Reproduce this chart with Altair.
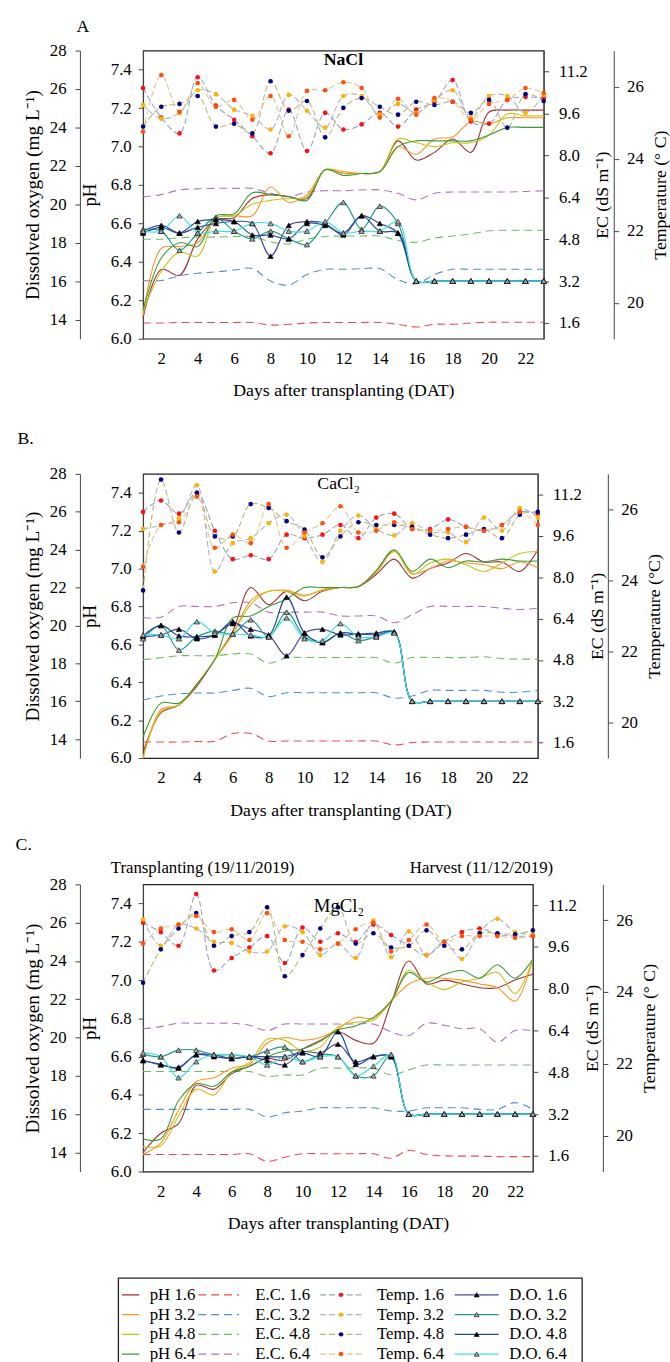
import altair as alt
import pandas as pd

DAYS = list(range(1, 24))
LEVELS = ["1.6", "3.2", "4.8", "6.4"]

# ---------------- Panel A : NaCl ----------------
A_PH_16 = [6.11, 6.36, 6.33, 6.52, 6.62, 6.63, 6.73, 6.75, 6.74, 6.73, 6.88, 6.86, 6.86, 6.87, 7.03, 6.93, 6.97, 7.04, 6.97, 7.18, 7.19, 7.19, 7.19]
A_PH_32 = [6.12, 6.47, 6.48, 6.50, 6.63, 6.64, 6.64, 6.79, 6.71, 6.75, 6.88, 6.87, 6.86, 6.87, 7.00, 6.96, 7.04, 7.05, 7.13, 7.12, 7.15, 7.15, 7.15]
A_PH_48 = [6.14, 6.35, 6.45, 6.43, 6.63, 6.64, 6.70, 6.72, 6.73, 6.74, 6.88, 6.86, 6.86, 6.87, 7.04, 7.02, 7.00, 7.02, 7.02, 7.06, 7.17, 7.16, 7.16]
A_PH_64 = [6.15, 6.42, 6.50, 6.48, 6.64, 6.65, 6.76, 6.75, 6.74, 6.72, 6.88, 6.85, 6.86, 6.87, 7.00, 7.03, 7.03, 7.03, 7.03, 7.06, 7.10, 7.10, 7.10]

A_EC_16 = [1.60, 1.60, 1.62, 1.62, 1.62, 1.62, 1.62, 1.52, 1.55, 1.60, 1.62, 1.62, 1.62, 1.62, 1.55, 1.45, 1.55, 1.55, 1.60, 1.63, 1.63, 1.63, 1.63]
A_EC_32 = [3.22, 3.22, 3.40, 3.50, 3.55, 3.62, 3.68, 3.20, 3.05, 3.45, 3.65, 3.65, 3.67, 3.68, 3.25, 3.10, 3.45, 3.65, 3.65, 3.65, 3.65, 3.65, 3.65]
A_EC_48 = [4.80, 4.80, 4.85, 4.88, 4.88, 4.90, 4.90, 4.70, 4.62, 4.80, 4.90, 4.92, 4.92, 4.92, 4.75, 4.68, 4.85, 4.92, 5.00, 5.12, 5.14, 5.14, 5.14]
A_EC_64 = [6.42, 6.50, 6.68, 6.72, 6.74, 6.74, 6.74, 6.55, 6.42, 6.60, 6.65, 6.65, 6.68, 6.68, 6.55, 6.30, 6.55, 6.60, 6.60, 6.60, 6.60, 6.62, 6.65]

A_T_16 = [25.96, 25.14, 24.70, 26.26, 25.47, 25.08, 24.62, 24.15, 25.36, 24.21, 25.27, 24.81, 24.95, 25.27, 24.89, 25.36, 25.58, 26.18, 25.03, 24.97, 25.63, 25.71, 25.68]
A_T_32 = [25.49, 25.11, 25.27, 25.90, 25.79, 25.36, 25.19, 24.81, 25.77, 25.33, 24.86, 25.74, 25.74, 25.22, 25.52, 25.27, 25.63, 25.90, 25.14, 25.74, 25.74, 25.27, 25.77]
A_T_48 = [24.89, 25.44, 25.52, 25.74, 24.89, 24.97, 24.70, 26.15, 25.33, 25.60, 24.59, 25.41, 25.68, 25.44, 25.22, 25.58, 25.49, 25.58, 25.27, 25.63, 24.86, 25.79, 25.60]
A_T_64 = [24.75, 26.32, 25.30, 26.10, 25.44, 25.63, 25.08, 25.74, 24.62, 25.88, 25.90, 26.12, 25.96, 25.14, 25.66, 25.22, 25.68, 25.58, 25.08, 25.52, 25.63, 25.96, 25.82]

A_DO_16 = [18.6, 18.9, 18.5, 18.8, 19.0, 19.1, 19.0, 17.3, 18.9, 19.1, 19.0, 18.4, 19.4, 19.0, 18.5, 16.0, 16.0, 16.0, 16.0, 16.0, 16.0, 16.0, 16.0]
A_DO_32 = [18.7, 18.6, 17.6, 18.5, 19.3, 18.6, 18.2, 18.6, 18.2, 17.9, 19.0, 20.1, 18.7, 19.9, 19.0, 16.0, 16.0, 16.0, 16.0, 16.0, 16.0, 16.0, 16.0]
A_DO_48 = [18.5, 18.8, 18.5, 19.1, 19.2, 19.1, 18.4, 18.4, 18.2, 19.0, 18.9, 18.5, 19.4, 18.6, 18.5, 16.0, 16.0, 16.0, 16.0, 16.0, 16.0, 16.0, 16.0]
A_DO_64 = [18.6, 18.6, 19.4, 18.5, 18.6, 18.6, 19.0, 19.0, 18.6, 18.6, 19.1, 18.5, 18.6, 18.6, 19.1, 16.0, 16.0, 16.0, 16.0, 16.0, 16.0, 16.0, 16.0]

# ---------------- Panel B : CaCl2 ----------------
B_PH_16 = [6.03, 6.24, 6.28, 6.38, 6.52, 6.67, 6.90, 6.81, 6.88, 6.83, 6.88, 6.90, 6.905, 6.97, 7.05, 6.95, 7.00, 7.03, 7.08, 7.035, 7.035, 6.985, 7.10]
B_PH_32 = [6.00, 6.255, 6.28, 6.39, 6.52, 6.655, 6.83, 6.88, 6.885, 6.86, 6.885, 6.90, 6.905, 6.98, 7.09, 6.975, 7.00, 7.04, 7.03, 7.02, 7.00, 7.035, 7.005]
B_PH_48 = [6.00, 6.245, 6.28, 6.39, 6.52, 6.655, 6.81, 6.88, 6.88, 6.855, 6.89, 6.90, 6.905, 6.99, 7.095, 6.97, 7.03, 7.05, 7.02, 6.985, 7.03, 7.08, 7.09]
B_PH_64 = [6.11, 6.29, 6.29, 6.39, 6.52, 6.74, 6.75, 6.80, 6.84, 6.90, 6.90, 6.90, 6.905, 6.99, 7.10, 6.985, 7.05, 7.005, 7.04, 7.035, 7.05, 7.04, 7.04]

B_EC_16 = [1.62, 1.62, 1.62, 1.64, 1.65, 1.95, 1.95, 1.66, 1.66, 1.66, 1.66, 1.66, 1.66, 1.66, 1.51, 1.60, 1.62, 1.62, 1.62, 1.62, 1.62, 1.62, 1.62]
B_EC_32 = [3.25, 3.40, 3.49, 3.52, 3.52, 3.62, 3.70, 3.38, 3.53, 3.53, 3.53, 3.53, 3.53, 3.53, 3.32, 3.40, 3.62, 3.62, 3.62, 3.62, 3.55, 3.55, 3.62]
B_EC_48 = [4.81, 4.88, 4.96, 4.96, 4.96, 5.03, 5.03, 4.67, 4.89, 4.89, 4.89, 4.89, 4.89, 4.89, 4.67, 4.89, 4.89, 4.89, 4.89, 4.92, 4.85, 4.83, 4.83]
B_EC_64 = [6.43, 6.45, 6.87, 6.87, 6.87, 7.01, 7.01, 6.65, 6.65, 6.65, 6.65, 6.50, 6.50, 6.50, 6.24, 6.55, 6.87, 6.87, 6.87, 6.87, 6.80, 6.75, 6.80]

B_T_16 = [25.93, 26.25, 25.88, 26.47, 25.40, 24.60, 24.71, 24.60, 25.29, 25.19, 25.29, 25.56, 25.19, 25.77, 25.88, 25.45, 25.45, 25.72, 25.51, 25.40, 25.56, 25.93, 25.88]
B_T_32 = [25.45, 25.56, 25.75, 26.68, 24.25, 25.05, 25.19, 25.61, 25.85, 25.24, 24.52, 25.40, 25.83, 25.45, 25.27, 25.61, 25.35, 25.35, 25.08, 25.77, 25.40, 26.04, 25.77]
B_T_48 = [23.72, 26.84, 25.35, 26.47, 25.24, 25.24, 26.15, 26.04, 25.67, 25.43, 24.65, 25.24, 25.64, 25.56, 25.56, 25.51, 25.29, 25.19, 25.29, 25.45, 25.19, 25.85, 25.93]
B_T_64 = [24.39, 25.56, 25.64, 26.36, 24.92, 25.29, 25.05, 26.15, 24.92, 25.35, 25.61, 26.09, 25.35, 25.40, 25.64, 25.45, 25.40, 25.45, 25.51, 25.40, 25.56, 25.93, 25.56]

B_DO_16 = [19.4, 19.5, 19.8, 19.3, 19.5, 20.1, 19.8, 19.5, 18.4, 19.6, 19.8, 19.5, 19.55, 19.5, 19.65, 16.0, 16.0, 16.0, 16.0, 16.0, 16.0, 16.0, 16.0]
B_DO_32 = [19.3, 20.0, 18.7, 19.4, 19.7, 19.55, 20.3, 19.4, 20.7, 19.4, 19.1, 19.6, 19.2, 19.4, 19.65, 16.0, 16.0, 16.0, 16.0, 16.0, 16.0, 16.0, 16.0]
B_DO_48 = [19.45, 20.0, 19.45, 19.4, 19.5, 20.2, 19.45, 19.45, 21.5, 19.6, 19.1, 19.6, 19.55, 19.6, 19.65, 16.0, 16.0, 16.0, 16.0, 16.0, 16.0, 16.0, 16.0]
B_DO_64 = [19.5, 19.5, 19.3, 20.2, 19.6, 19.55, 19.5, 19.4, 20.4, 19.3, 19.2, 20.1, 19.4, 19.4, 19.6, 16.0, 16.0, 16.0, 16.0, 16.0, 16.0, 16.0, 16.0]

# ---------------- Panel C : MgCl2 ----------------
C_PH_16 = [6.10, 6.20, 6.25, 6.45, 6.43, 6.51, 6.55, 6.59, 6.58, 6.64, 6.685, 6.73, 6.685, 6.67, 6.88, 7.10, 6.98, 7.00, 6.98, 6.96, 6.96, 7.00, 7.03]
C_PH_32 = [6.09, 6.15, 6.32, 6.47, 6.49, 6.54, 6.56, 6.67, 6.70, 6.685, 6.70, 6.745, 6.805, 6.80, 6.89, 6.98, 7.01, 7.01, 7.00, 6.98, 6.96, 6.89, 7.11]
C_PH_48 = [6.13, 6.135, 6.29, 6.43, 6.40, 6.52, 6.57, 6.69, 6.685, 6.63, 6.65, 6.755, 6.78, 6.79, 6.89, 7.05, 6.99, 6.95, 6.99, 7.01, 7.04, 6.93, 7.11]
C_PH_64 = [6.17, 6.17, 6.37, 6.46, 6.445, 6.52, 6.55, 6.60, 6.63, 6.64, 6.68, 6.74, 6.76, 6.805, 6.89, 7.04, 6.99, 7.03, 7.05, 7.01, 7.08, 7.01, 7.11]

C_EC_16 = [1.65, 1.65, 1.65, 1.65, 1.65, 1.65, 1.68, 1.39, 1.55, 1.68, 1.68, 1.68, 1.68, 1.68, 1.51, 1.81, 1.65, 1.60, 1.59, 1.59, 1.57, 1.57, 1.57]
C_EC_32 = [3.38, 3.38, 3.38, 3.38, 3.38, 3.38, 3.38, 3.09, 3.25, 3.32, 3.44, 3.44, 3.44, 3.44, 3.32, 3.32, 3.44, 3.44, 3.44, 3.38, 3.38, 3.64, 3.38]
C_EC_48 = [4.83, 4.83, 4.83, 4.83, 4.83, 4.83, 4.83, 4.64, 4.70, 4.70, 4.96, 4.96, 4.96, 4.96, 4.70, 4.90, 5.08, 5.08, 5.08, 5.08, 5.08, 5.08, 5.08]
C_EC_64 = [6.47, 6.55, 6.68, 6.68, 6.68, 6.68, 6.60, 6.40, 6.65, 6.65, 6.65, 6.65, 6.65, 6.65, 6.35, 6.21, 6.68, 6.60, 6.47, 6.47, 5.95, 6.40, 6.40]

C_T_16 = [25.93, 25.67, 25.29, 26.73, 24.60, 24.95, 25.24, 25.56, 24.81, 25.80, 25.40, 25.64, 25.40, 25.88, 25.59, 25.29, 25.03, 25.40, 25.67, 25.77, 25.61, 25.56, 25.56]
C_T_32 = [26.02, 25.29, 25.88, 25.77, 25.40, 25.37, 25.13, 25.13, 25.83, 25.67, 25.03, 25.35, 24.95, 25.99, 24.97, 25.69, 25.03, 25.40, 24.92, 25.67, 26.04, 25.67, 25.61]
C_T_48 = [24.26, 25.19, 25.77, 26.20, 25.29, 25.56, 25.67, 26.36, 24.44, 25.03, 25.77, 26.36, 25.35, 25.64, 25.24, 25.29, 25.72, 25.29, 25.19, 25.64, 25.64, 25.61, 25.72]
C_T_64 = [25.35, 25.77, 25.88, 26.12, 25.67, 25.75, 25.45, 26.20, 25.45, 25.40, 25.19, 25.35, 25.75, 25.93, 25.13, 25.45, 25.88, 25.40, 25.56, 25.56, 25.56, 25.51, 25.56]

C_DO_16 = [18.8, 18.57, 18.45, 19.1, 19.1, 18.9, 19.0, 18.8, 18.57, 19.25, 19.2, 19.65, 18.74, 19.0, 19.0, 16.0, 16.0, 16.0, 16.0, 16.0, 16.0, 16.0, 16.0]
C_DO_32 = [19.13, 19.0, 19.34, 19.34, 19.1, 19.1, 19.0, 19.3, 19.5, 18.74, 19.1, 19.0, 18.0, 18.0, 19.1, 16.0, 16.0, 16.0, 16.0, 16.0, 16.0, 16.0, 16.0]
C_DO_48 = [18.8, 18.6, 18.4, 19.1, 19.0, 18.9, 19.0, 19.0, 19.0, 19.2, 19.0, 20.3, 18.6, 19.0, 19.0, 16.0, 16.0, 16.0, 16.0, 16.0, 16.0, 16.0, 16.0]
C_DO_64 = [19.2, 19.0, 17.9, 18.74, 19.1, 19.1, 19.0, 18.57, 19.0, 18.74, 19.0, 19.0, 18.0, 18.5, 19.1, 16.0, 16.0, 16.0, 16.0, 16.0, 16.0, 16.0, 16.0]

# ---------------- axis ticks ----------------
X_TICKS = [2, 4, 6, 8, 10, 12, 14, 16, 18, 20, 22]
PH_TICKS = [6.0, 6.2, 6.4, 6.6, 6.8, 7.0, 7.2, 7.4]
DO_TICKS = [14, 16, 18, 20, 22, 24, 26, 28]
EC_TICKS = [1.6, 3.2, 4.8, 6.4, 8.0, 9.6, 11.2]
T_TICKS = [20, 22, 24, 26]

# ---------------- styles ----------------
FONT = "Liberation Serif"
LINE_COLORS = {
    "pH 1.6": "#A0302F", "pH 3.2": "#FF9326", "pH 4.8": "#C9C21C", "pH 6.4": "#3C9A35",
    "E.C. 1.6": "#EE4B4B", "E.C. 3.2": "#4F8FD0", "E.C. 4.8": "#6BBF5F", "E.C. 6.4": "#B36FC7",
    "Temp. 1.6": "#98A2BE", "Temp. 3.2": "#A9B3C7", "Temp. 4.8": "#B9B57A", "Temp. 6.4": "#DFC78F",
    "D.O. 1.6": "#4848A0", "D.O. 3.2": "#1E9A8C", "D.O. 4.8": "#1C4C9C", "D.O. 6.4": "#3FE0E0",
}
FILL_COLORS = {
    "Temp. 1.6": "#FF1010", "Temp. 3.2": "#FFB300", "Temp. 4.8": "#000080", "Temp. 6.4": "#FF4F10",
    "D.O. 1.6": "#000000", "D.O. 3.2": "#A8A8A8", "D.O. 4.8": "#000000", "D.O. 6.4": "#A8A8A8",
}
COLOR_SCALE = alt.Scale(domain=list(LINE_COLORS), range=list(LINE_COLORS.values()))
FILL_SCALE = alt.Scale(domain=list(FILL_COLORS), range=list(FILL_COLORS.values()))


def long(arrays, prefix):
    rows = []
    for lvl, vals in zip(LEVELS, arrays):
        for d, v in zip(DAYS, vals):
            rows.append({"day": d, "value": v, "series": f"{prefix} {lvl}"})
    return pd.DataFrame(rows)


def text_layer(label, x, y, size=18, weight="normal"):
    return alt.Chart(pd.DataFrame({"t": [label]})).mark_text(
        font=FONT, fontSize=size, fontWeight=weight, color="black",
        align="center", baseline="middle"
    ).encode(x=x, y=alt.value(y), text="t:N")


def panel(ph, ec, tp, do, W, H, texts, do_title, ec_title, t_title):
    X = alt.X("day:Q", scale=alt.Scale(domain=[1, 23], nice=False, zero=False),
              axis=alt.Axis(values=X_TICKS, tickCount=len(X_TICKS),
                            title="Days after transplanting (DAT)",
                            ticks=False, domain=False, labelPadding=12, titlePadding=16,
                            labelOverlap=False))

    def Y(domain, axis):
        return alt.Y("value:Q", scale=alt.Scale(domain=domain, nice=False, zero=False), axis=axis)

    col = alt.Color("series:N", scale=COLOR_SCALE, legend=None)
    fil = alt.Fill("series:N", scale=FILL_SCALE, legend=None)

    ph_ax = alt.Axis(orient="left", values=PH_TICKS, tickCount=len(PH_TICKS), format=".1f",
                     title="pH", titleFontSize=19, tickSize=5, labelPadding=7, titlePadding=11,
                     labelOverlap=False)
    do_ax = alt.Axis(orient="left", offset=64, values=DO_TICKS, tickCount=len(DO_TICKS),
                     title=do_title, titleFontSize=19.5, tickSize=5, labelPadding=9,
                     titlePadding=7, labelOverlap=False)
    ec_ax = alt.Axis(orient="right", values=EC_TICKS, tickCount=len(EC_TICKS), format=".1f",
                     title=ec_title, titleAngle=270, titleBaseline="top", tickSize=5,
                     labelPadding=10, titlePadding=7, labelOverlap=False)
    t_ax = alt.Axis(orient="right", offset=71, values=T_TICKS, tickCount=len(T_TICKS),
                    title=t_title, titleAngle=270, titleBaseline="top", tickSize=5,
                    labelPadding=8, titlePadding=8, labelOverlap=False)

    ec_df = long(ec, "E.C.")
    ph_df = long(ph, "pH")
    t_df = long(tp, "Temp.")
    do_df = long(do, "D.O.")

    ec_l = alt.Chart(ec_df).mark_line(interpolate="catmull-rom", strokeWidth=1.1, strokeDash=[8, 5]).encode(
        x=X, y=Y([1, 12], ec_ax), color=col)
    ph_l = alt.Chart(ph_df).mark_line(interpolate="catmull-rom", strokeWidth=1.1).encode(
        x=X, y=Y([6, 7.5], ph_ax), color=col)
    t_l = alt.Chart(t_df).mark_line(interpolate="catmull-rom", strokeWidth=1.1, strokeDash=[6, 3]).encode(
        x=X, y=Y([19, 27], t_ax), color=col)
    t_p = alt.Chart(t_df).mark_point(filled=True, shape="circle", size=22, opacity=1).encode(
        x=X, y=Y([19, 27], None), fill=fil)
    do_l = alt.Chart(do_df).mark_line(interpolate="catmull-rom", strokeWidth=1.2).encode(
        x=X, y=Y([13, 28], do_ax), color=col)
    do_p = alt.Chart(do_df).mark_point(filled=True, shape="triangle-up", size=30, opacity=1,
                                       stroke="black", strokeWidth=0.6).encode(
        x=X, y=Y([13, 28], None), fill=fil)

    return alt.layer(ec_l, ph_l, t_l, t_p, do_l, do_p, *texts).resolve_scale(
        y="independent").properties(width=W, height=H)


DO_TITLE = "Dissolved oxygen (mg L⁻¹)"
EC_TITLE = "EC (dS m⁻¹)"

pA = panel([A_PH_16, A_PH_32, A_PH_48, A_PH_64], [A_EC_16, A_EC_32, A_EC_48, A_EC_64],
           [A_T_16, A_T_32, A_T_48, A_T_64], [A_DO_16, A_DO_32, A_DO_48, A_DO_64], 406, 292,
           [text_layer("A", alt.value(-61), -24),
            text_layer("NaCl", alt.datum(12.0), 10, 18, "bold")],
           DO_TITLE, EC_TITLE, "Temperature (° C)")

pB = panel([B_PH_16, B_PH_32, B_PH_48, B_PH_64], [B_EC_16, B_EC_32, B_EC_48, B_EC_64],
           [B_T_16, B_T_32, B_T_48, B_T_64], [B_DO_16, B_DO_32, B_DO_48, B_DO_64], 400, 288,
           [text_layer("B.", alt.value(-119), -35),
            text_layer("CaCl₂", alt.datum(11.9), 10, 18)],
           "Dissolved oxygen (mg  L⁻¹)", EC_TITLE, "Temperature (°C)")

pC = panel([C_PH_16, C_PH_32, C_PH_48, C_PH_64], [C_EC_16, C_EC_32, C_EC_48, C_EC_64],
           [C_T_16, C_T_32, C_T_48, C_T_64], [C_DO_16, C_DO_32, C_DO_48, C_DO_64], 395, 291,
           [text_layer("C.", alt.value(-121), -40),
            text_layer("Transplanting (19/11/2019)", alt.datum(4.36), -17, 17),
            text_layer("Harvest (11/12/2019)", alt.datum(20.1), -17, 17),
            text_layer("MgCl₂", alt.datum(12.05), 22, 19)],
           DO_TITLE, EC_TITLE, "Temperature (° C)")

# ---------------- legend ----------------
KINDS = ["pH", "E.C.", "Temp.", "D.O."]
LEG_LINE_START = [0.03, 0.69, 1.74, 2.90]
LEG_LINE_END = [0.18, 1.04, 2.10, 3.28]
LEG_TEXT_X = [0.27, 1.18, 2.23, 3.37]
leg_rows = []
for ci, k in enumerate(KINDS):
    for ri, lvl in enumerate(LEVELS):
        leg_rows.append({"series": f"{k} {lvl}", "kind": k, "row": ri,
                         "x0": LEG_LINE_START[ci], "x1": LEG_LINE_END[ci],
                         "xm": (LEG_LINE_START[ci] + LEG_LINE_END[ci]) / 2, "xt": LEG_TEXT_X[ci]})
leg_df = pd.DataFrame(leg_rows)
LX = alt.Scale(domain=[0, 4], range=[-25, 445])
LY = alt.Scale(domain=[-0.85, 3.65], range=[-20, 70])
DASH_SCALE = alt.Scale(domain=KINDS, range=[[1, 0], [8, 5], [6, 3], [1, 0]])

box = alt.Chart(pd.DataFrame({"a": [0], "b": [4], "c": [-0.85], "d": [3.65]})).mark_rect(
    fill="white", stroke="#222", strokeWidth=1.3).encode(
    x=alt.X("a:Q", scale=LX, axis=None), x2="b:Q",
    y=alt.Y("c:Q", scale=LY, axis=None), y2="d:Q")
leg_lines = alt.Chart(leg_df).mark_rule(strokeWidth=1.4).encode(
    x=alt.X("x0:Q", scale=LX, axis=None), x2="x1:Q",
    y=alt.Y("row:Q", scale=LY, axis=None),
    color=alt.Color("series:N", scale=COLOR_SCALE, legend=None),
    strokeDash=alt.StrokeDash("kind:N", scale=DASH_SCALE, legend=None))
leg_dots = alt.Chart(leg_df).transform_filter(alt.datum.kind == "Temp.").mark_point(
    filled=True, shape="circle", size=20, opacity=1).encode(
    x=alt.X("xm:Q", scale=LX, axis=None), y=alt.Y("row:Q", scale=LY, axis=None),
    fill=alt.Fill("series:N", scale=FILL_SCALE, legend=None))
leg_tris = alt.Chart(leg_df).transform_filter(alt.datum.kind == "D.O.").mark_point(
    filled=True, shape="triangle-up", size=26, opacity=1, stroke="black", strokeWidth=0.6).encode(
    x=alt.X("xm:Q", scale=LX, axis=None), y=alt.Y("row:Q", scale=LY, axis=None),
    fill=alt.Fill("series:N", scale=FILL_SCALE, legend=None))
leg_text = alt.Chart(leg_df).mark_text(align="left", baseline="middle", font=FONT, fontSize=17,
                                       color="black").encode(
    x=alt.X("xt:Q", scale=LX, axis=None), y=alt.Y("row:Q", scale=LY, axis=None), text="series:N")

legend = alt.layer(box, leg_lines, leg_dots, leg_tris, leg_text).properties(
    width=445, height=40, view={"stroke": "transparent"})

lower = alt.vconcat(pB, pC, legend, spacing=128, bounds="flush")
chart = alt.vconcat(pA, lower, spacing=137, bounds="flush").properties(
    padding={"left": 15, "top": 8, "right": 0, "bottom": 0}
).configure_view(stroke="#222", strokeWidth=1.2).configure_axis(
    labelFont=FONT, titleFont=FONT, labelFontSize=17, titleFontSize=18,
    titleFontWeight="normal", labelColor="black", titleColor="black",
    domainColor="#444", tickColor="#444", grid=False, labelFlush=False
)

chart.save("out.html", embed_options={"renderer": "svg", "actions": False})
